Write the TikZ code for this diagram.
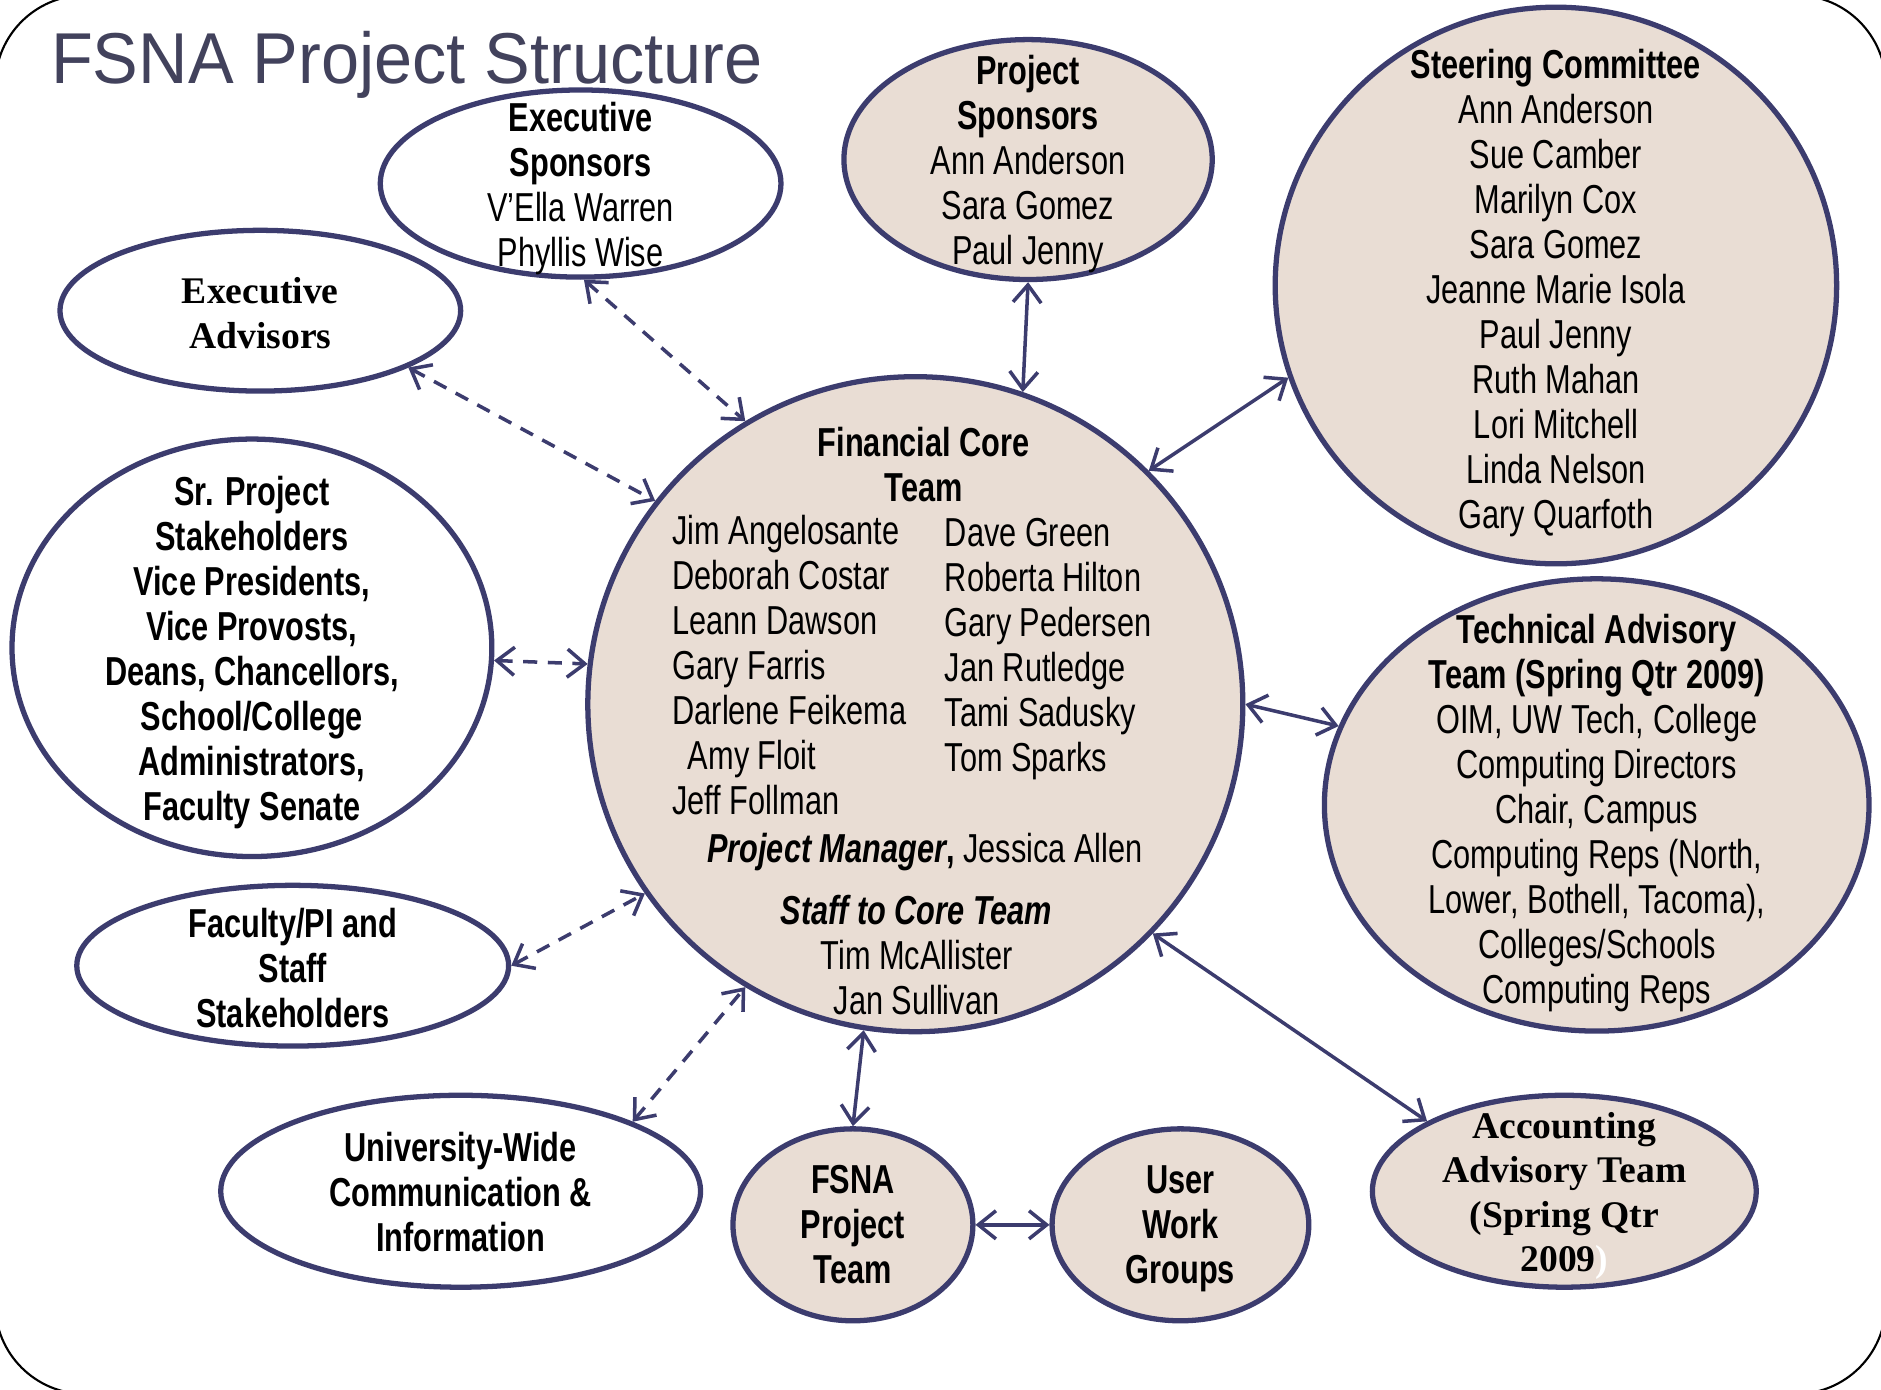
\documentclass[tikz,border=0pt]{standalone}
\usepackage{fontspec}
\setmainfont[FakeStretch=0.76]{Liberation Sans}
\newfontfamily\titlefont[FakeStretch=0.95]{Liberation Sans}
\newfontfamily\oldstyle{Liberation Serif}
\usepackage{tikz}
\usetikzlibrary{positioning,arrows.meta,shapes.geometric}
\definecolor{edgeblue}{RGB}{60,60,110}
\definecolor{teamtan}{RGB}{233,221,212}
\definecolor{titlegray}{RGB}{66,66,92}
\tikzstyle{line} = [draw=edgeblue,line width=1pt]
\tikzstyle{group} = [ellipse,draw=edgeblue,line width=1.5pt,fill=white,inner sep=0pt]
\tikzstyle{team} = [group,fill=teamtan]
\tikzstyle{names} = [align=center,inner sep=0pt,font=\fontsize{11.5}{12.8}\selectfont]
\tikzstyle{serifnames} = [names,font=\oldstyle\bfseries\fontsize{10.7}{12.6}\selectfont]
\tikzstyle{link} = [line,{Straight Barb[length=5pt,width=8pt]}-{Straight Barb[length=5pt,width=8pt]}]
\tikzstyle{loose} = [link,dash pattern=on 4pt off 3pt]
\tikzset{sz/.style 2 args={minimum width=#1*0.012cm,minimum height=#2*0.012cm}}

\begin{document}
\begin{tikzpicture}[x=0.012cm,y=-0.012cm]
  \useasboundingbox (0,0) rectangle (1568,1158);
  \draw[black,line width=0.6pt,rounded corners=0.9cm] (-4,-4) rectangle (1572,1162);
  \node[anchor=base west,inner sep=0pt,text=titlegray,font=\titlefont\fontsize{20.5}{24}\selectfont] (title) at (42,70) {FSNA Project Structure};

  % the core team in the middle
  \node[team,sz={546}{546}] (fct) at (763,587) {};
  \node[names] (fct-head) at (770,387) {\textbf{Financial Core}\\\textbf{Team}};
  \node[names,align=left,anchor=west] (fct-left) at (560,554) {Jim Angelosante\\Deborah Costar\\Leann Dawson\\Gary Farris\\Darlene Feikema\\\hspace*{4.4pt}Amy Floit\\Jeff Follman};
  \node[names,align=left,anchor=west] (fct-right) at (787,541) {Dave Green\\Roberta Hilton\\Gary Pedersen\\Jan Rutledge\\Tami Sadusky\\Tom Sparks};
  \node[names] (fct-pm) at (771,710) {\textbf{\textit{Project Manager},} Jessica Allen};
  \node[names] (fct-staff) at (764,796) {\textbf{\textit{Staff to Core Team}}\\Tim McAllister\\Jan Sullivan};

  % groups round it
  \node[group,sz={334}{156}] (exsp) at (484,153) {};
  \node[names] (exsp-txt) at (484,157) {\textbf{Executive}\\\textbf{Sponsors}\\V’Ella Warren\\Phyllis Wise};
  \node[group,sz={334}{134}] (exad) at (217,259) {};
  \node[serifnames] (exad-txt) at (217,261) {Executive\\Advisors};
  \node[team,sz={307}{200}] (psp) at (857,133) {};
  \node[names] (psp-txt) at (857,137) {\textbf{Project}\\\textbf{Sponsors}\\Ann Anderson\\Sara Gomez\\Paul Jenny};
  \node[team,sz={468}{464}] (sc) at (1297,238) {};
  \node[names] (sc-txt) at (1297,244) {\textbf{Steering Committee}\\Ann Anderson\\Sue Camber\\Marilyn Cox\\Sara Gomez\\Jeanne Marie Isola\\Paul Jenny\\Ruth Mahan\\Lori Mitchell\\Linda Nelson\\Gary Quarfoth};
  \node[group,sz={400}{348}] (srps) at (210,540) {};
  \node[names] (srps-txt) at (210,544) {\textbf{Sr. Project}\\\textbf{Stakeholders}\\\textbf{Vice Presidents,}\\\textbf{Vice Provosts,}\\\textbf{Deans, Chancellors,}\\\textbf{School/College}\\\textbf{Administrators,}\\\textbf{Faculty Senate}};
  \node[team,sz={454}{377}] (tat) at (1331,671) {};
  \node[names] (tat-txt) at (1331,678) {\textbf{Technical Advisory}\\\textbf{Team (Spring Qtr 2009)}\\OIM, UW Tech, College\\Computing Directors\\Chair, Campus\\Computing Reps (North,\\Lower, Bothell, Tacoma),\\Colleges/Schools\\Computing Reps};
  \node[group,sz={360}{134}] (fac) at (244,805) {};
  \node[names] (fac-txt) at (244,807) {\textbf{Faculty/PI and}\\\textbf{Staff}\\\textbf{Stakeholders}};
  \node[group,sz={400}{160}] (univ) at (384,993) {};
  \node[names] (univ-txt) at (384,994) {\textbf{University-Wide}\\\textbf{Communication \&}\\\textbf{Information}};
  \node[team,sz={200}{160}] (fpt) at (711,1021) {};
  \node[names] (fpt-txt) at (fpt) {\textbf{FSNA}\\\textbf{Project}\\\textbf{Team}};
  \node[team,sz={214}{160}] (uwg) at (984,1021) {};
  \node[names] (uwg-txt) at (984,1024) {\textbf{User}\\\textbf{Work}\\\textbf{Groups}};
  \node[team,sz={320}{160}] (aat) at (1304,993) {};
  \node[serifnames] (aat-txt) at (1304,997) {Accounting\\Advisory Team\\(Spring Qtr\\2009\textcolor{white}{)}};

  % links
  \path (exsp.-88) edge[loose] (fct.121);
  \path (exad.-21) edge[loose] (fct.142);
  \path (srps.-3) edge[loose] (fct.173);
  \path (fac.east) edge[loose] (fct.-145);
  \path (univ.22) edge[loose] (fct.-121);
  \path (psp.south) edge[link] (fct.71);
  \path (sc.-161) edge[link] (fct.45);
  \path (tat.163) edge[link] (fct.0);
  \path (aat.153) edge[link] (fct.-44);
  \path (fpt.north) edge[link] (fct.-99);
  \path (fpt.east) edge[link] (uwg.west);
\end{tikzpicture}
\end{document}
